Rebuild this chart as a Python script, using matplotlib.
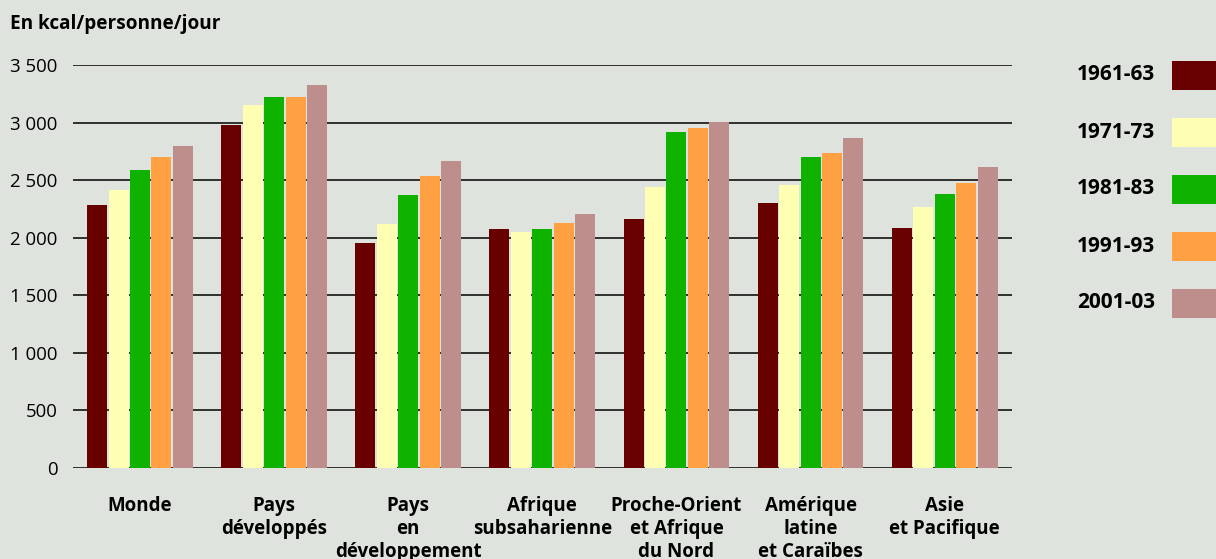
import numpy as np
import matplotlib
matplotlib.use("Agg")
import matplotlib.pyplot as plt
from matplotlib.patches import Rectangle

# ----------------------------- data ------------------------------------------
regions = ["Monde", "Pays\ndéveloppés", "Pays\nen\ndéveloppement",
           "Afrique\nsubsaharienne", "Proche-Orient\net Afrique\ndu Nord",
           "Amérique\nlatine\net Caraïbes", "Asie\net Pacifique"]
periods = ["1961-63", "1971-73", "1981-83", "1991-93", "2001-03"]
kcal_1961 = [2288, 2983, 1958, 2080, 2166, 2305, 2088]
kcal_1971 = [2418, 3157, 2123, 2053, 2444, 2462, 2271]
kcal_1981 = [2592, 3218, 2375, 2080, 2914, 2705, 2384]
kcal_1991 = [2705, 3226, 2540, 2132, 2957, 2740, 2471]
kcal_2001 = [2800, 3330, 2662, 2210, 3003, 2870, 2618]
series = [kcal_1961, kcal_1971, kcal_1981, kcal_1991, kcal_2001]
yticks = [0, 500, 1000, 1500, 2000, 2500, 3000, 3500]
ytick_labels = ["0", "500", "1 000", "1 500", "2 000", "2 500", "3 000", "3 500"]

# ----------------------------- style -----------------------------------------
BG = "#dfe3dd"
COLORS = ["#690000", "#feffb2", "#10b200", "#ffa043", "#bd8e8b"]
plt.rcParams.update({"font.family": ["Open Sans", "DejaVu Sans"]})

fig = plt.figure(figsize=(12.16, 5.59), dpi=100, facecolor=BG)
ax = fig.add_axes([0.060, 0.1628, 0.772, 0.7209], facecolor=BG)

x = np.arange(len(regions))
pitch, width = 0.16, 0.149
for i, (vals, c) in enumerate(zip(series, COLORS)):
    ax.bar(x + (i - 2) * pitch, vals, width=width, color=c, zorder=3,
           edgecolor="none")

ax.set_xlim(-0.5, len(regions) - 0.5)
ax.set_ylim(0, 3500)
ax.set_yticks(yticks, ytick_labels, fontsize=13.4)
for y in yticks:
    ax.axhline(y, color="black", lw=1.1, zorder=2)
ax.set_xticks(x, regions, fontsize=13.5, fontweight="bold", linespacing=1.2)
ax.tick_params(axis="x", length=0, pad=20)
ax.tick_params(axis="y", length=0, pad=11)
for s in ax.spines.values():
    s.set_visible(False)

fig.text(10 / 1216, 1 - 24 / 559, "En kcal/personne/jour", fontsize=13.7,
         fontweight="bold", va="center", ha="left")

# legend: label on the left, swatch on the right edge
W, H = 1216, 559
for i, (lab, c) in enumerate(zip(periods, COLORS)):
    yc = 75 + i * 57
    fig.add_artist(Rectangle((1172 / W, 1 - (yc + 14.5) / H), 50 / W, 29 / H,
                             transform=fig.transFigure, color=c, lw=0))
    fig.text(1155 / W, 1 - yc / H, lab, fontsize=15, fontweight="bold",
             ha="right", va="center")

fig.savefig("out.png", dpi=100, facecolor=BG)
